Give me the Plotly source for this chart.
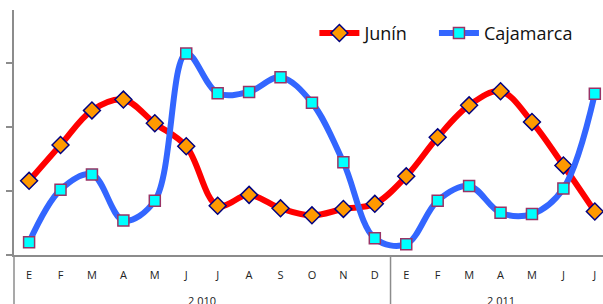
import plotly.graph_objects as go

months = ["E", "F", "M", "A", "M", "J", "J", "A", "S", "O", "N", "D",
          "E", "F", "M", "A", "M", "J", "J"]
years = ["2 010", "2 011"]
junin = [1.16, 1.72, 2.26, 2.43, 2.06, 1.70, 0.77, 0.94, 0.73, 0.62, 0.72, 0.80,
         1.23, 1.84, 2.34, 2.56, 2.08, 1.40, 0.68]
cajamarca = [0.20, 1.02, 1.26, 0.54, 0.85, 3.15, 2.53, 2.55, 2.78, 2.38, 1.45, 0.26,
             0.17, 0.85, 1.08, 0.66, 0.64, 1.04, 2.52]

idx = list(range(len(months)))
FONT = "Open Sans"

fig = go.Figure()
fig.add_trace(go.Scatter(
    x=idx, y=junin, name="Junín", mode="lines+markers", legend="legend",
    line=dict(color="#FF0000", width=6, shape="spline", smoothing=1.0),
    marker=dict(symbol="diamond", size=13, color="#FF9900",
                line=dict(color="#000080", width=1.5)),
    cliponaxis=False,
))
fig.add_trace(go.Scatter(
    x=idx, y=cajamarca, name="Cajamarca", mode="lines+markers", legend="legend2",
    line=dict(color="#3366FF", width=6, shape="spline", smoothing=1.0),
    marker=dict(symbol="square", size=11, color="#00FFFF",
                line=dict(color="#993366", width=1.5)),
    cliponaxis=False,
))

# axis extension lines and year divider (category axis groups)
fig.add_shape(type="line", xref="paper", yref="paper", x0=0, x1=0, y0=0, y1=-0.25,
              line=dict(color="#8C8C8C", width=1.5))
fig.add_shape(type="line", xref="x", yref="paper", x0=11.5, x1=11.5, y0=0, y1=-0.25,
              line=dict(color="#8C8C8C", width=1.5))

for xc, label in zip([5.5, 15.0], years):
    fig.add_annotation(x=xc, xref="x", y=-0.185, yref="paper", text=label,
                       showarrow=False, font=dict(family=FONT, size=11, color="#222"),
                       yanchor="middle")

leg_common = dict(orientation="h", xanchor="left", y=0.905, yanchor="middle",
                  font=dict(family=FONT, size=18, color="#111"),
                  bgcolor="rgba(0,0,0,0)", itemwidth=40)

fig.update_layout(
    width=603, height=304,
    margin=dict(l=14, r=0, t=10, b=49),
    paper_bgcolor="white", plot_bgcolor="white",
    font=dict(family=FONT, color="#222"),
    showlegend=True,
    legend=dict(x=0.51, **leg_common),
    legend2=dict(x=0.713, **leg_common),
    xaxis=dict(range=[-0.48, 18.26], tickmode="array", tickvals=idx, ticktext=months,
               showline=True, linecolor="#8C8C8C", linewidth=1.5, showgrid=False,
               zeroline=False, ticks="outside", ticklen=9, tickcolor="rgba(0,0,0,0)",
               tickfont=dict(family=FONT, size=11, color="#222")),
    yaxis=dict(range=[0, 3.83], tickvals=[0, 1, 2, 3], showticklabels=False,
               ticks="outside", ticklen=6, tickcolor="#8C8C8C", tickwidth=1.5,
               showline=True, linecolor="#8C8C8C", linewidth=1.5, showgrid=False,
               zeroline=False),
)

fig.write_html("out.html", config={"displayModeBar": False},
               post_script="document.body.style.margin='0';")
